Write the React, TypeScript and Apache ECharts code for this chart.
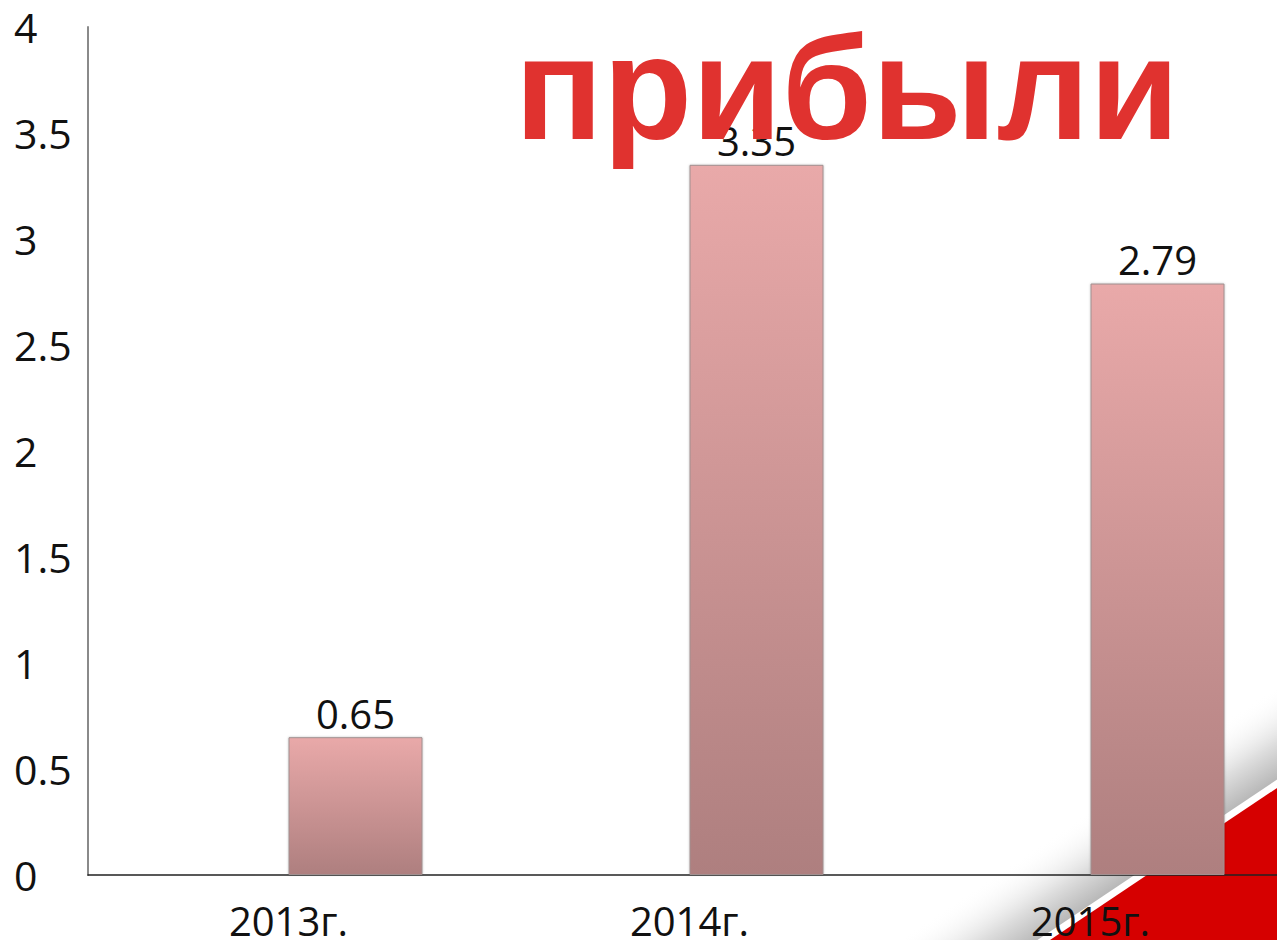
import React, { useEffect, useRef } from "react";
import * as echarts from "echarts";

const categories = ["2013г.", "2014г.", "2015г."];
const emptySeries = ["-", "-", "-"];
const profitValues = [0.65, 3.35, 2.79];
const titleText = "прибыли";

export default function App() {
  const ref = useRef<HTMLDivElement>(null);
  useEffect(() => {
    if (!ref.current) return;
    const chart = echarts.init(ref.current, undefined, { renderer: "svg" });

    // decoration line geometry (bottom-right corner)
    const A = [1050, 940];
    const B = [1277, 788];
    const dx = B[0] - A[0];
    const dy = B[1] - A[1];
    const len = Math.hypot(dx, dy);
    const ux = dx / len, uy = dy / len;
    const nx = uy, ny = -ux; // normal pointing up-left
    const ext = 200;
    const A2 = [A[0] - ux * ext, A[1] - uy * ext];
    const B2 = [B[0] + ux * ext, B[1] + uy * ext];
    const off = (p: number[], k: number) => [p[0] + nx * k, p[1] + ny * k];
    const mid = [(A[0] + B[0]) / 2, (A[1] + B[1]) / 2];
    const g1 = off(mid, 7);
    const g2 = off(mid, 85);

    chart.setOption({
      animation: false,
      backgroundColor: "#ffffff",
      grid: { left: 88, top: 27, right: 9, bottom: 64, containLabel: false },
      xAxis: {
        type: "category",
        data: categories,
        axisLine: { show: true, lineStyle: { color: "#222", width: 1.5 } },
        axisTick: { show: false },
        axisLabel: {
          margin: 30,
          fontSize: 40,
          lineHeight: 30,
          fontFamily: "Open Sans",
          color: "#111",
        },
      },
      yAxis: {
        type: "value",
        min: 0,
        max: 4,
        interval: 0.5,
        splitLine: { show: false },
        axisLine: { show: true, lineStyle: { color: "#8a8a8a", width: 2 } },
        axisTick: { show: false },
        axisLabel: {
          align: "left",
          margin: 74,
          fontSize: 41,
          fontFamily: "Open Sans",
          color: "#111",
        },
      },
      graphic: [
        {
          type: "polygon",
          z: -1,
          shape: { points: [off(A2, 7), off(B2, 7), off(B2, 90), off(A2, 90)] },
          style: {
            fill: {
              type: "linear",
              x: g1[0], y: g1[1], x2: g2[0], y2: g2[1],
              global: true,
              colorStops: [
                { offset: 0, color: "#b8b8b8" },
                { offset: 0.4, color: "#dedede" },
                { offset: 1, color: "rgba(255,255,255,0)" },
              ],
            },
          },
        },
        {
          type: "polygon",
          z: -1,
          shape: { points: [A2, B2, [1400, 1100], [900, 1100]] },
          style: { fill: "#d60000" },
        },
        {
          type: "text",
          z: 100,
          x: 847,
          y: 88,
          style: {
            text: titleText,
            fill: "#e0322f",
            font: "bold 146px 'Liberation Sans', Arial, sans-serif",
            align: "center",
            verticalAlign: "middle",
          },
        },
      ],
      series: [
        {
          type: "bar",
          data: emptySeries,
          barWidth: 134,
          barGap: "0%",
        },
        {
          type: "bar",
          data: profitValues,
          barWidth: 134,
          barGap: "0%",
          itemStyle: {
            color: {
              type: "linear",
              x: 0, y: 0, x2: 0, y2: 1,
              colorStops: [
                { offset: 0, color: "#e9a9a9" },
                { offset: 1, color: "#ae7f7f" },
              ],
            },
            borderColor: "#a09090",
            borderWidth: 1,
            shadowColor: "rgba(0,0,0,0.25)",
            shadowBlur: 2,
          },
          label: {
            show: true,
            position: "top",
            distance: 4,
            fontSize: 40,
            fontFamily: "Open Sans",
            color: "#111",
          },
        },
      ],
    });
    return () => chart.dispose();
  }, []);
  return (
    <div
      ref={ref}
      style={{ position: "fixed", left: 0, top: 0, width: 1300, height: 940 }}
    />
  );
}
